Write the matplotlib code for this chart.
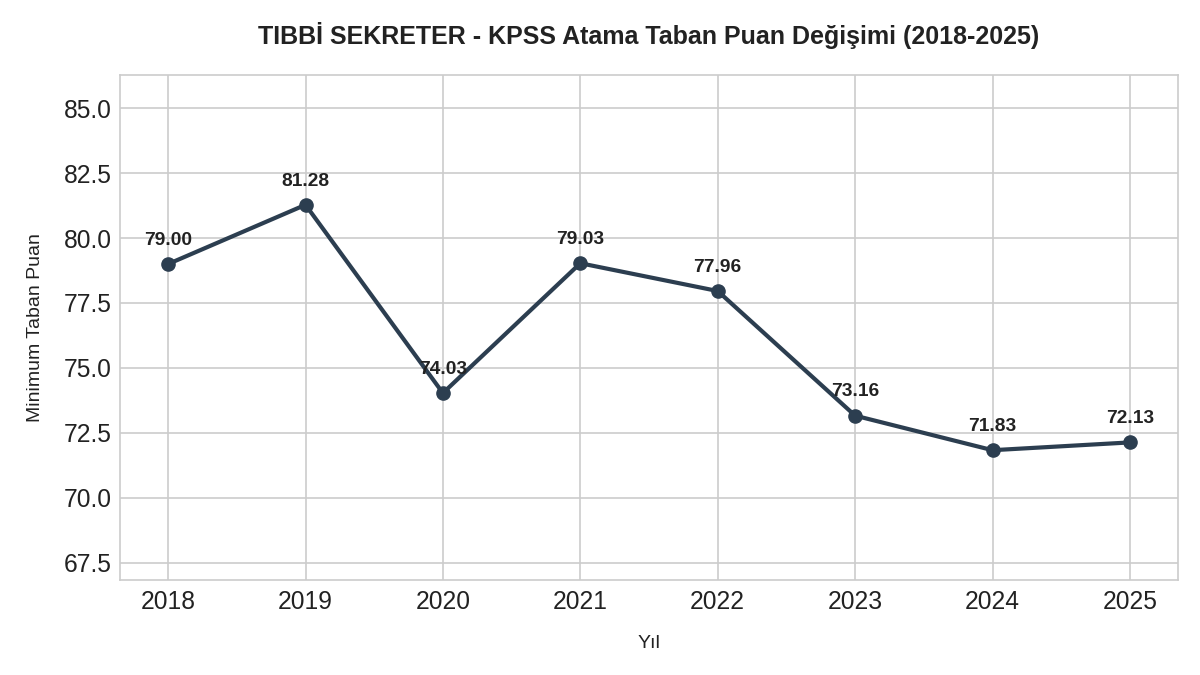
import matplotlib
matplotlib.use("Agg")
import matplotlib.pyplot as plt

years = [2018, 2019, 2020, 2021, 2022, 2023, 2024, 2025]
scores = [79.00, 81.28, 74.03, 79.03, 77.96, 73.16, 71.83, 72.13]
labels = ["79.00", "81.28", "74.03", "79.03", "77.96", "73.16", "71.83", "72.13"]

plt.style.use("seaborn-v0_8-whitegrid")
plt.rcParams['font.family'] = ['Liberation Sans', 'DejaVu Sans']

fig = plt.figure(figsize=(12, 6.75), dpi=100)
ax = fig.add_axes([0.1, 0.1407, 0.8817, 0.7482])

color = "#2c3e50"
ax.plot(years, scores, color=color, linewidth=3, marker='o', markersize=9.5)
for x, y, t in zip(years, scores, labels):
    ax.annotate(t, (x, y), xytext=(0, 11), textcoords='offset points',
                ha='center', va='bottom', fontsize=13.8, fontweight='bold', color='#222222')

ax.set_ylim(min(scores) - 5, max(scores) + 5)
ax.set_xticks(years)
ax.set_xticklabels([str(y) for y in years])
ax.set_yticks([67.5, 70.0, 72.5, 75.0, 77.5, 80.0, 82.5, 85.0])
ax.tick_params(axis='both', labelsize=17.7, colors='#222222')
ax.tick_params(axis='x', pad=7)
ax.tick_params(axis='y', pad=6)
ax.set_xlabel("Yıl", fontsize=14, labelpad=15, color='#222222')
ax.set_ylabel("Minimum Taban Puan", fontsize=14, labelpad=14, color='#222222')
ax.set_title("TIBBİ SEKRETER - KPSS Atama Taban Puan Değişimi (2018-2025)",
             fontsize=18, fontweight='bold', pad=22, color='#222222')
for s in ax.spines.values():
    s.set_visible(True)
    s.set_color('#cccccc')
    s.set_linewidth(1.2)
ax.grid(True, color='#cccccc', linewidth=1.2)

fig.savefig("out.png", dpi=100)
